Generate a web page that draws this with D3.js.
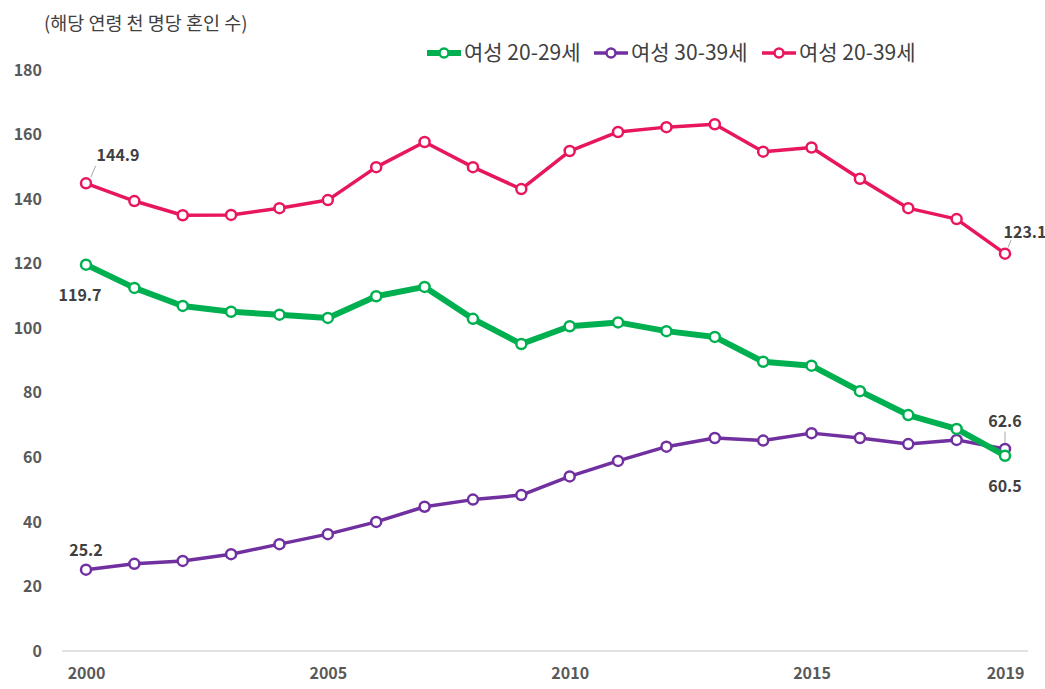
<!DOCTYPE html>
<html>
<head>
<meta charset="utf-8">
<script src="https://d3js.org/d3.v7.min.js"></script>
<style>
  body { margin: 0; background: #fff; }
  text { font-family: "Noto Sans CJK KR", "Noto Sans", sans-serif; }
</style>
</head>
<body>
<script>
// data
var years = d3.range(2000, 2020);
var women2029 = [119.7, 112.5, 106.9, 105.1, 104.2, 103.2, 109.9, 112.8, 102.9, 95.1,
                 100.6, 101.8, 99.1, 97.3, 89.6, 88.4, 80.5, 73.1, 68.8, 60.5];
var women3039 = [25.2, 27.0, 27.9, 30.0, 33.1, 36.2, 40.0, 44.7, 46.9, 48.3,
                 54.1, 58.9, 63.3, 66.0, 65.2, 67.5, 66.0, 64.1, 65.4, 62.6];
var women2039 = [144.9, 139.4, 135.0, 135.1, 137.2, 139.7, 149.9, 157.7, 149.9, 143.1,
                 154.9, 160.8, 162.3, 163.2, 154.7, 156.0, 146.3, 137.2, 133.8, 123.1];
var seriesNames = ["여성 20-29세", "여성 30-39세", "여성 20-39세"];
var yTicks = [0, 20, 40, 60, 80, 100, 120, 140, 160, 180];
var xTicks = [2000, 2005, 2010, 2015, 2019];
var unitLabel = "(해당 연령 천 명당 혼인 수)";

var w = 1045, h = 689;
var svg = d3.select("body").append("svg").attr("width", w).attr("height", h);

var x = d3.scaleLinear().domain([2000, 2019]).range([86, 1005]);
var y = d3.scaleLinear().domain([0, 180]).range([651, 70]);

var series = [
  {name: seriesNames[0], values: women2029, color: "#00B050", width: 6},
  {name: seriesNames[1], values: women3039, color: "#7030A0", width: 3.5},
  {name: seriesNames[2], values: women2039, color: "#E8175D", width: 3.5}
];

// unit label
svg.append("text").attr("x", 44).attr("y", 30)
  .attr("font-size", 18.5).attr("fill", "#404040").text(unitLabel);

// baseline
svg.append("line").attr("x1", 62).attr("x2", 1028)
  .attr("y1", y(0)).attr("y2", y(0))
  .attr("stroke", "#d9d9d9").attr("stroke-width", 1.5);

// y axis
var yAxis = d3.axisLeft(y).tickValues(yTicks).tickSize(0).tickPadding(0);
var gy = svg.append("g").attr("transform", "translate(42,0)").call(yAxis);
gy.select(".domain").remove();
gy.selectAll("text").attr("font-size", 16).attr("font-weight", "bold")
  .attr("fill", "#595959").attr("font-family", "'Noto Sans', sans-serif");

// x axis
var xAxis = d3.axisBottom(x).tickValues(xTicks).tickFormat(d3.format("d")).tickSize(0).tickPadding(0);
var gx = svg.append("g").attr("transform", "translate(0,668)").call(xAxis);
gx.select(".domain").remove();
gx.selectAll("text").attr("font-size", 16).attr("font-weight", "bold")
  .attr("fill", "#595959").attr("font-family", "'Noto Sans', sans-serif");

var line = d3.line().x(function(d, i) { return x(years[i]); }).y(function(d) { return y(d); });

// purple first, then green, then pink (green sits over purple at the end)
[1, 0, 2].forEach(function(k) {
  var s = series[k];
  svg.append("path").datum(s.values)
    .attr("d", line).attr("fill", "none")
    .attr("stroke", s.color).attr("stroke-width", s.width)
    .attr("stroke-linejoin", "round");
  svg.append("g").selectAll("circle").data(s.values).enter().append("circle")
    .attr("cx", function(d, i) { return x(years[i]); })
    .attr("cy", function(d) { return y(d); })
    .attr("r", 5).attr("fill", "#fff")
    .attr("stroke", s.color).attr("stroke-width", 2.5);
});

// data labels
var labels = [
  {v: women2039[0], i: 0, dx: 32, dy: -28, leader: true},
  {v: women2029[0], i: 0, dx: -6, dy: 30, leader: false},
  {v: women3039[0], i: 0, dx: 0, dy: -20, leader: false},
  {v: women2039[19], i: 19, dx: 20, dy: -22, leader: true},
  {v: women3039[19], i: 19, dx: 0, dy: -28, leader: true},
  {v: women2029[19], i: 19, dx: 0, dy: 30, leader: false}
];
labels.forEach(function(l) {
  var cx = x(years[l.i]), cy = y(l.v);
  if (l.leader) {
    svg.append("line")
      .attr("x1", cx + l.dx * 0.15).attr("y1", cy + (l.dy < 0 ? -6 : 6))
      .attr("x2", cx + l.dx * 0.3).attr("y2", cy + l.dy * 0.62)
      .attr("stroke", "#a6a6a6").attr("stroke-width", 1);
  }
  svg.append("text").attr("x", cx + l.dx).attr("y", cy + l.dy + 6)
    .attr("text-anchor", "middle").attr("font-size", 16).attr("font-weight", "bold")
    .attr("fill", "#404040").attr("font-family", "'Noto Sans', sans-serif")
    .text(d3.format(".1f")(l.v));
});

// legend
var legendX = [427, 594, 762];
series.forEach(function(s, k) {
  var g = svg.append("g").attr("transform", "translate(" + legendX[k] + ",53)");
  g.append("line").attr("x1", 0).attr("x2", 34).attr("y1", 0).attr("y2", 0)
    .attr("stroke", s.color).attr("stroke-width", s.width);
  g.append("circle").attr("cx", 17).attr("cy", 0).attr("r", 4.5)
    .attr("fill", "#fff").attr("stroke", s.color).attr("stroke-width", 2.5);
  g.append("text").attr("x", 37).attr("y", 7).attr("font-size", 21)
    .attr("fill", "#404040").text(s.name);
});
</script>
</body>
</html>
